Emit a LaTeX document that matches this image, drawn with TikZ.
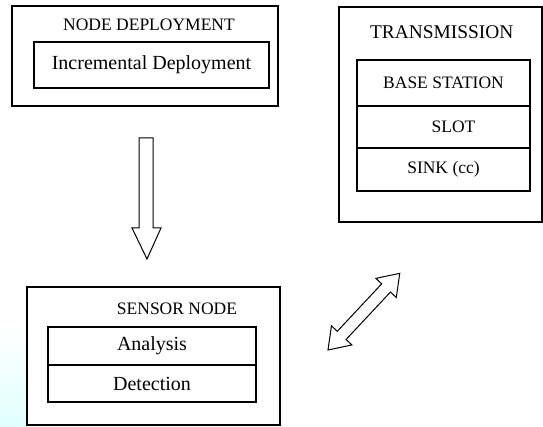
\documentclass[tikz,border=0pt]{standalone}
\usepackage{fontspec}
\setmainfont{Liberation Serif}
\usepackage{tikz}
\usetikzlibrary{positioning}

\begin{document}
\begin{tikzpicture}[x=1pt, y=1pt,
    outerbox/.style={draw, line width=1.3pt, minimum width=#1},
    cellbox/.style={draw, line width=1.3pt, inner sep=0pt},
    caps/.style={font=\fontsize{17.5}{20}\selectfont},
    words/.style={font=\fontsize{20}{23}\selectfont},
    blockarrow/.style={draw, line width=1pt, fill=white, line join=miter}]
	  \useasboundingbox (0, 0) rectangle (543, 427);
	  % 背景
	  \shade[top color=white, bottom color=cyan!12] (0, 0) rectangle (26, 100);
	  % NODE DEPLOYMENT
	  \node[outerbox=266pt, minimum height=100pt] (deploy) at (145, 371) {};
	  \node[caps] (deploytitle) at (149, 402) {NODE DEPLOYMENT};
	  \node[cellbox, words, minimum width=235pt, minimum height=46pt] (incr) at (151.5, 362) {Incremental Deployment};
	  % TRANSMISSION
	  \node[outerbox=203pt, minimum height=215pt] (trans) at (440.5, 312.5) {};
	  \node[font=\fontsize{19.4}{22}\selectfont] (transtitle) at (441.7, 395) {TRANSMISSION};
	  \node[cellbox, caps, minimum width=173pt, minimum height=46pt] (base) at (443.5, 344) {BASE STATION};
	  \node[cellbox, minimum width=173pt, minimum height=42pt] (slot) at (443.5, 300) {};
	  \node[caps, xshift=10pt] (slottext) at (slot) {SLOT};
	  \node[cellbox, caps, minimum width=173pt, minimum height=43pt] (sink) at (443.5, 257.5) {SINK (cc)};
	  % SENSOR NODE
	  \node[outerbox=253pt, minimum height=138pt] (sensor) at (153.5, 71) {};
	  \node[caps] (sensortitle) at (177, 118) {SENSOR NODE};
	  \node[cellbox, words, minimum width=208pt, minimum height=38pt] (analysis) at (152, 81) {Analysis};
	  \node[cellbox, words, minimum width=208pt, minimum height=37pt] (detect) at (152, 43.5) {Detection};
	  % 箭头
	  \coordinate (downtip) at (147, 168);
	  \draw[blockarrow] (139, 289) -- (153, 289) -- (153, 199) -- (161, 199)
	      -- (downtip) -- (132, 199) -- (139, 199) -- cycle;
	  \coordinate (linktip) at (328, 77);
	  \begin{scope}[shift={(linktip)}, rotate=46.9]
	    \draw[blockarrow] (0, 0) -- (20, 14) -- (20, 6) -- (85, 6) -- (85, 14)
	        -- (105, 0) -- (85, -14) -- (85, -6) -- (20, -6) -- (20, -14) -- cycle;
	  \end{scope}
	\end{tikzpicture}
\end{document}
